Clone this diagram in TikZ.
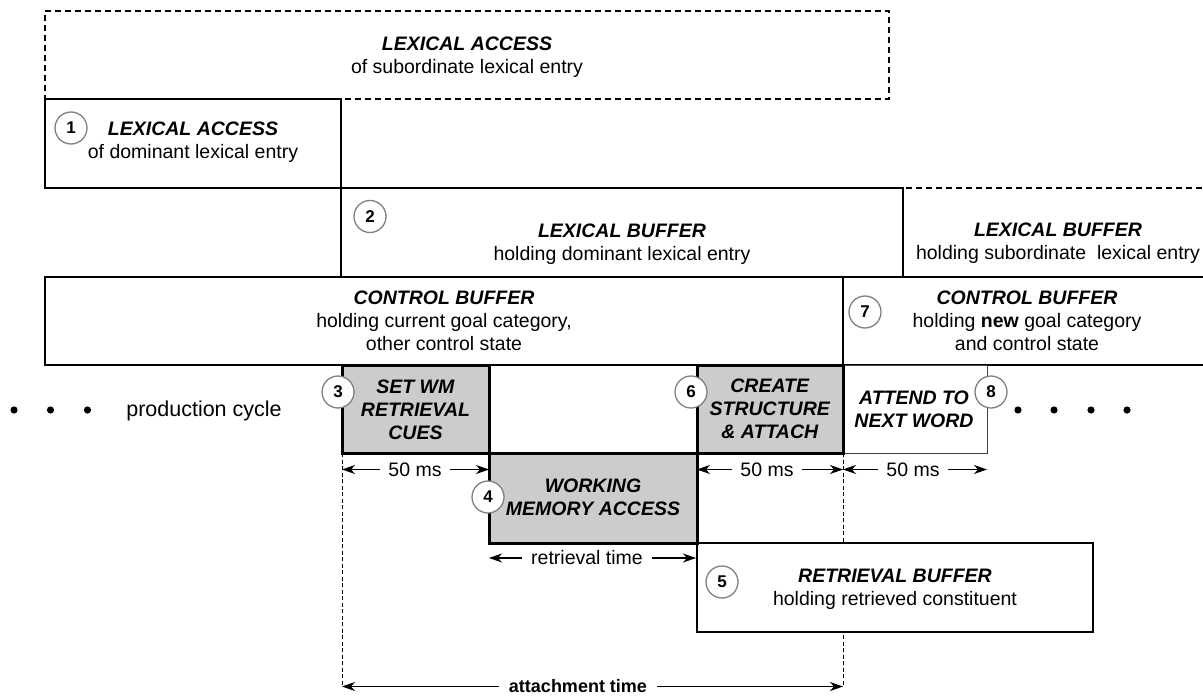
\documentclass[tikz,border=0pt]{standalone}
\usepackage{fontspec}
\setmainfont{Liberation Sans}
\usetikzlibrary{arrows.meta}
\newcommand\boxhead[1]{\textbf{\textit{#1}}}
\begin{document}
\begin{tikzpicture}[x=1pt,y=-1pt,
  every node/.style={inner sep=0pt, outer sep=0pt},
  thinbox/.style={draw=black, line width=1.2pt, fill=white},
  lightbox/.style={draw=black!75, line width=1pt, fill=white},
  dashbox/.style={draw=black, line width=1.2pt, dash pattern=on 6pt off 4pt},
  actbox/.style={draw=black, line width=3pt, fill=black!20},
  txt/.style={align=center, font=\fontsize{19.5}{23}\selectfont},
  num/.style={circle, draw=black!50, line width=1.3pt, fill=white, minimum size=32pt, font=\fontsize{17}{20}\selectfont\bfseries},
  lbl/.style={font=\fontsize{19.5}{23}\selectfont, inner xsep=8pt},
  dim/.style={line width=1.2pt, -{Stealth[length=13pt,width=9pt,inset=4pt]}},
  guide/.style={line width=0.8pt, dash pattern=on 4pt off 2.5pt},
  dot/.style={circle, fill=black, minimum size=7.2pt},
]
\useasboundingbox (0,0) rectangle (1203,696);
\clip (0,0) rectangle (1203,696);

% top row: lexical access
\node[dashbox, minimum width=844pt, minimum height=88pt] (la2) at (467,55) {};
\node[txt] (la2t) at (467,57) {\boxhead{LEXICAL ACCESS}\\of subordinate lexical entry};
\node[thinbox, minimum width=296pt, minimum height=89pt] (b1) at (193,143.5) {};
\node[txt] (b1t) at (193,142) {\boxhead{LEXICAL ACCESS}\\of dominant lexical entry};

% lexical buffers
\node[dashbox, minimum width=330pt, minimum height=89pt] (lb2) at (1068,232.5) {};
\node[thinbox, minimum width=562pt, minimum height=89pt] (b2) at (622,232.5) {};
\node[txt] (b2t) at (622,244) {\boxhead{LEXICAL BUFFER}\\holding dominant lexical entry};
\node[txt] (lb2t) at (1058,243) {\boxhead{LEXICAL BUFFER}\\holding subordinate\ \ lexical entry};

% control buffers
\node[thinbox, minimum width=798pt, minimum height=88pt] (cb1) at (444,321) {};
\node[txt] (cb1t) at (444,321) {\boxhead{CONTROL BUFFER}\\holding current goal category,\\other control state};
\node[thinbox, minimum width=372pt, minimum height=88pt] (cb7) at (1029,321) {};
\node[txt] (cb7t) at (1027,321) {\boxhead{CONTROL BUFFER}\\holding \textbf{new} goal category\\and control state};

% attend box
\node[lightbox, minimum width=144pt, minimum height=88pt] (b8) at (915,409) {};
\node[txt] (b8t) at (914,409) {\boxhead{ATTEND TO}\\\boxhead{NEXT WORD}};

% guides
\coordinate (g1) at (342,686.5);
\coordinate (g2) at (843,686.5);
\coordinate (g1t) at (342,453);
\coordinate (g2t) at (843,453);
\draw[guide] (g1t) -- (g1);
\draw[guide] (g2t) -- (g2);

% retrieval buffer
\node[thinbox, minimum width=396pt, minimum height=89pt] (b5) at (895,587.5) {};
\node[txt] (b5t) at (895,589.5) {\boxhead{RETRIEVAL BUFFER}\\holding retrieved constituent};

% production steps
\node[actbox, minimum width=147pt, minimum height=88pt] (b3) at (415.5,409) {};
\node[txt] (b3t) at (415.5,409.5) {\boxhead{SET WM}\\\boxhead{RETRIEVAL}\\\boxhead{CUES}};
\node[actbox, minimum width=146pt, minimum height=88pt] (b6) at (770,409) {};
\node[txt] (b6t) at (770,409) {\boxhead{CREATE}\\\boxhead{STRUCTURE}\\\boxhead{\& ATTACH}};
\node[actbox, minimum width=208pt, minimum height=90pt] (b4) at (593,498) {};
\node[txt] (b4t) at (593,497.5) {\boxhead{WORKING}\\\boxhead{MEMORY ACCESS}};

% production cycle
\node[dot] (dl1) at (14,410) {};
\node[dot] (dl2) at (50.5,410) {};
\node[dot] (dl3) at (87.5,410) {};
\node[font=\fontsize{21.5}{25}\selectfont] (pc) at (204,410.5) {production cycle};
\node[dot] (dr1) at (1018,410) {};
\node[dot] (dr2) at (1054,410) {};
\node[dot] (dr3) at (1091,410) {};
\node[dot] (dr4) at (1127,410) {};

% durations
\coordinate (a1l) at (342,469.5);
\coordinate (a1r) at (489,469.5);
\node[lbl] (d1) at (415,469.5) {50 ms};
\draw[dim] (d1.west) -- (a1l);
\draw[dim] (d1.east) -- (a1r);
\coordinate (a2l) at (697,469.5);
\coordinate (a2r) at (843,469.5);
\node[lbl] (d2) at (767,469.5) {50 ms};
\draw[dim] (d2.west) -- (a2l);
\draw[dim] (d2.east) -- (a2r);
\coordinate (a3l) at (843,469.5);
\coordinate (a3r) at (987,469.5);
\node[lbl] (d3) at (913,469.5) {50 ms};
\draw[dim] (d3.west) -- (a3l);
\draw[dim] (d3.east) -- (a3r);
\coordinate (a4l) at (489,558);
\coordinate (a4r) at (696,558);
\node[lbl, inner xsep=9pt] (rt) at (587,558) {retrieval time};
\draw[dim] (rt.west) -- (a4l);
\draw[dim] (rt.east) -- (a4r);
\node[lbl, inner xsep=10pt, font=\fontsize{18}{21}\selectfont\bfseries] (att) at (578,686.5) {attachment time};
\draw[dim] (att.west) -- (g1);
\draw[dim] (att.east) -- (g2);

% step numbers
\node[num] (n1) at (71,128) {1};
\node[num] (n2) at (370,216.5) {2};
\node[num] (n3) at (338,392) {3};
\node[num] (n4) at (488,497) {4};
\node[num] (n5) at (722,582) {5};
\node[num] (n6) at (691,392) {6};
\node[num] (n7) at (865,312) {7};
\node[num] (n8) at (991,392) {8};
\end{tikzpicture}
\end{document}
